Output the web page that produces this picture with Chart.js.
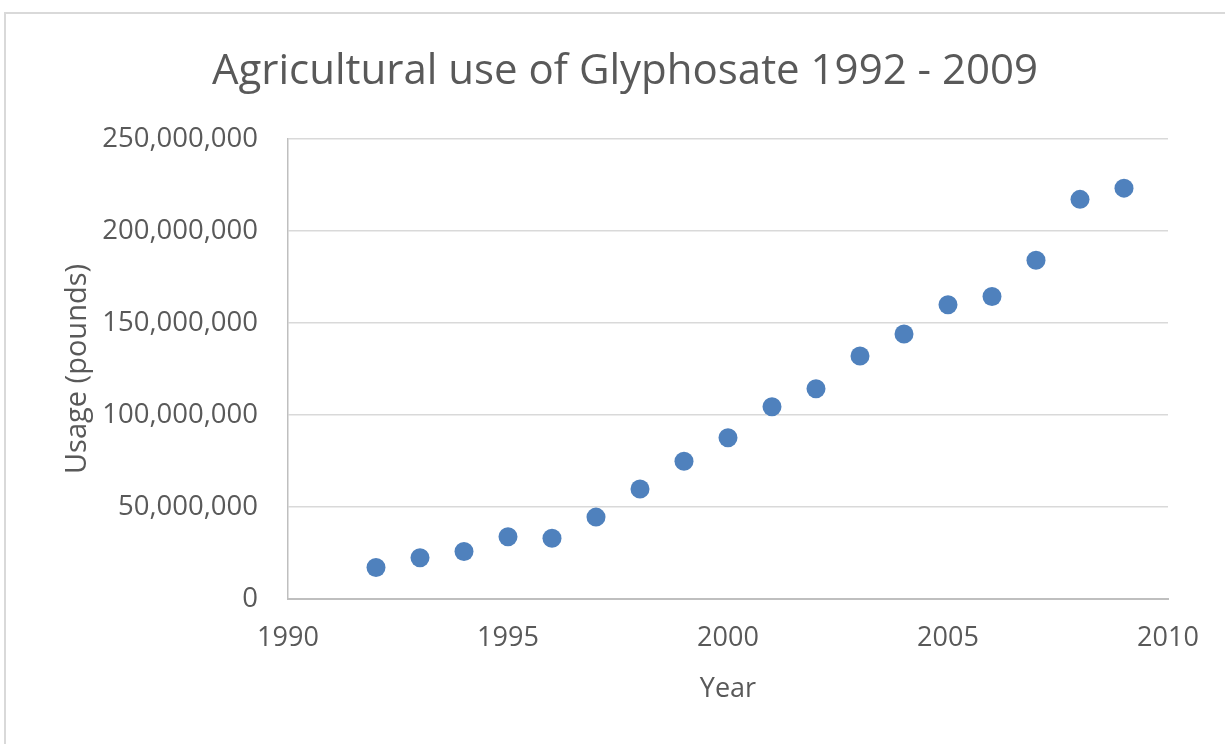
<!DOCTYPE html>
<html lang="en">
<head>
    <meta charset="UTF-8">
    <title>Agricultural use of Glyphosate 1992 - 2009</title>
    <script src="https://cdn.jsdelivr.net/npm/chart.js"></script>
    <style>
        html, body { margin: 0; padding: 0; background: #fff; }
        #frame {
            position: absolute; left: 4px; top: 12px; width: 1240px; height: 760px;
            border-top: 2px solid #d9d9d9; border-left: 2px solid #d9d9d9;
        }
        #chart { position: absolute; left: 0; top: 0; }
    </style>
</head>
<body>
    <div id="frame"></div>
    <canvas id="chart" width="1225" height="744"></canvas>
    <script>
        // Dados
        const years = [1992, 1993, 1994, 1995, 1996, 1997, 1998, 1999, 2000,
                       2001, 2002, 2003, 2004, 2005, 2006, 2007, 2008, 2009];
        const usage = [17100000, 22400000, 25800000, 33800000, 33000000, 44500000,
                       59800000, 74900000, 87600000, 104500000, 114300000, 132100000,
                       144000000, 159900000, 164400000, 184100000, 217200000, 223300000];
        const xTicks = [1990, 1995, 2000, 2005, 2010];
        const yTicks = [0, 50000000, 100000000, 150000000, 200000000, 250000000];

        const textColor = '#595959';
        const fontFamily = '"Open Sans", sans-serif';

        const points = years.map((y, i) => ({ x: y, y: usage[i] }));

        new Chart(document.getElementById('chart'), {
            type: 'scatter',
            data: {
                datasets: [{
                    label: 'Usage',
                    data: points,
                    backgroundColor: '#4f81bd',
                    borderWidth: 0,
                    pointRadius: 9.5,
                    pointHoverRadius: 9.5
                }]
            },
            options: {
                responsive: false,
                animation: false,
                layout: { padding: { left: 25, right: 0, top: 0, bottom: 0 } },
                plugins: {
                    legend: { display: false },
                    tooltip: { enabled: false },
                    title: {
                        display: true,
                        text: 'Agricultural use of Glyphosate 1992 - 2009',
                        color: textColor,
                        font: { family: fontFamily, size: 42, weight: 'normal' },
                        padding: { top: 47, bottom: 41.6 }
                    }
                },
                scales: {
                    x: {
                        type: 'linear',
                        min: xTicks[0],
                        max: xTicks[xTicks.length - 1],
                        afterBuildTicks: scale => { scale.ticks = xTicks.map(v => ({ value: v })); },
                        afterFit: scale => { scale.height = 145; },
                        grid: { display: false, drawTicks: false },
                        border: { display: true, color: '#bfbfbf', width: 2 },
                        ticks: {
                            color: textColor,
                            font: { family: fontFamily, size: 27 },
                            padding: 23,
                            callback: v => String(v)
                        },
                        title: {
                            display: true,
                            text: 'Year',
                            color: textColor,
                            font: { family: fontFamily, size: 27 },
                            padding: { top: 0, bottom: 38 }
                        }
                    },
                    y: {
                        min: yTicks[0],
                        max: yTicks[yTicks.length - 1],
                        afterBuildTicks: scale => { scale.ticks = yTicks.map(v => ({ value: v })); },
                        afterFit: scale => { scale.width = 263; },
                        grid: { color: '#d9d9d9', lineWidth: 1.5, drawTicks: false },
                        border: { display: true, color: '#bfbfbf', width: 1.5 },
                        ticks: {
                            color: textColor,
                            font: { family: fontFamily, size: 27.5 },
                            padding: 30,
                            callback: v => v.toLocaleString('en-US')
                        },
                        title: {
                            display: true,
                            text: 'Usage (pounds)',
                            color: textColor,
                            font: { family: fontFamily, size: 29 },
                            padding: { top: 35.6, bottom: 0 }
                        }
                    },
                    // espaço vazio à direita da área do gráfico
                    yRight: {
                        position: 'right',
                        display: true,
                        afterFit: scale => { scale.width = 57; },
                        grid: { display: false, drawTicks: false },
                        border: { display: false },
                        ticks: { display: false }
                    }
                }
            }
        });
    </script>
</body>
</html>
